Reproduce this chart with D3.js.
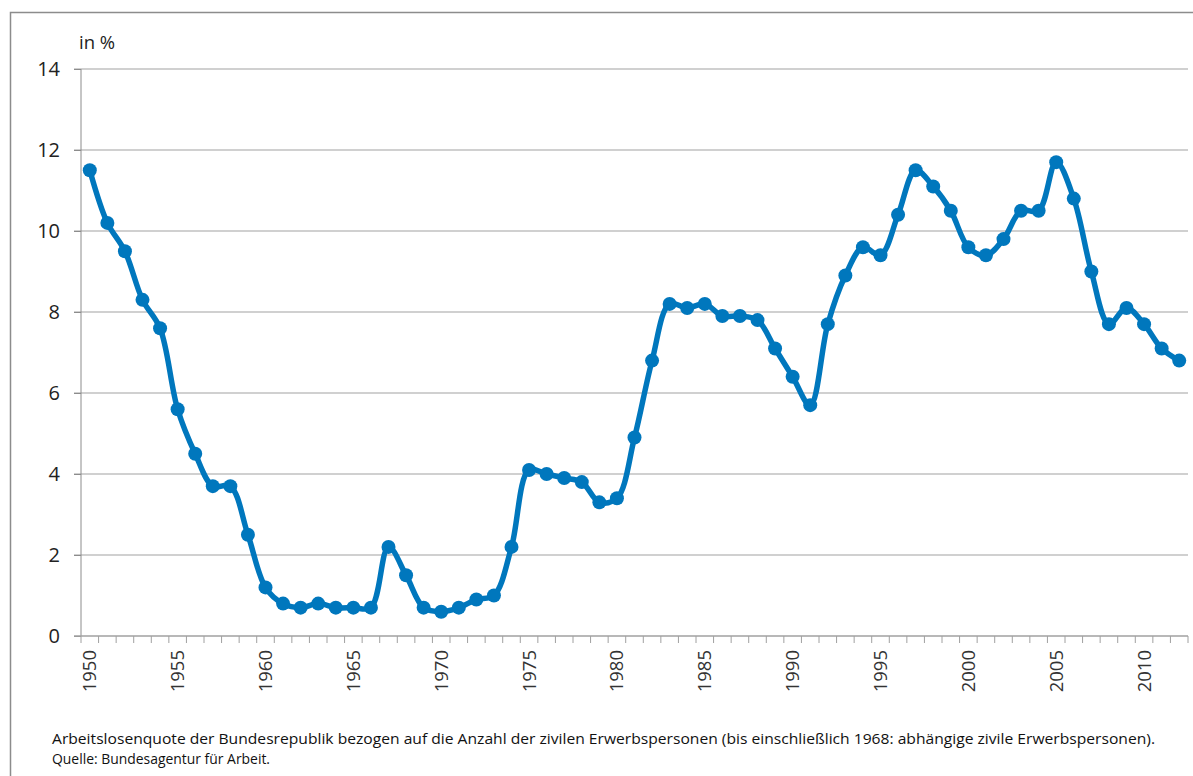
<!DOCTYPE html>
<html>
<head>
<meta charset="utf-8">
<script src="https://cdn.jsdelivr.net/npm/d3@7"></script>
<style>
	body { margin: 0; background: #fff; }
	svg { display: block; font-family: "Open Sans", "Noto Sans", sans-serif; }
</style>
</head>
<body>
<svg id="chart"></svg>
<script>
// ====================================================
// data
var years = d3.range(1950, 2013);

var quote = [
	11.5, 10.2, 9.5, 8.3, 7.6, 5.6, 4.5, 3.7, 3.7, 2.5,   // 1950-1959
	1.2, 0.8, 0.7, 0.8, 0.7, 0.7, 0.7, 2.2, 1.5, 0.7,      // 1960-1969
	0.6, 0.7, 0.9, 1.0, 2.2, 4.1, 4.0, 3.9, 3.8, 3.3,      // 1970-1979
	3.4, 4.9, 6.8, 8.2, 8.1, 8.2, 7.9, 7.9, 7.8, 7.1,      // 1980-1989
	6.4, 5.7, 7.7, 8.9, 9.6, 9.4, 10.4, 11.5, 11.1, 10.5,  // 1990-1999
	9.6, 9.4, 9.8, 10.5, 10.5, 11.7, 10.8, 9.0, 7.7, 8.1,  // 2000-2009
	7.7, 7.1, 6.8                                          // 2010-2012
];

var y_ticks = [0, 2, 4, 6, 8, 10, 12, 14];
var x_labels = [1950, 1955, 1960, 1965, 1970, 1975, 1980, 1985, 1990, 1995, 2000, 2005, 2010];

var y_title = "in %";
var note_lines = [
	"Arbeitslosenquote der Bundesrepublik bezogen auf die Anzahl der zivilen Erwerbspersonen (bis einschließlich 1968: abhängige zivile Erwerbspersonen).",
	"Quelle: Bundesagentur für Arbeit."
];

// ====================================================
var width = 1193, height = 776;
var plot = {left: 81, right: 1188, top: 69, bottom: 636};
var line_col = "#0077bd";

var svg = d3.select("svg#chart")
	.attr("width", width)
	.attr("height", height);

// outer frame -- only left and top edges are visible in the picture
svg.append("rect")
	.attr("x", 10.5).attr("y", 12.5)
	.attr("width", width + 20).attr("height", height + 20)
	.attr("fill", "none")
	.attr("stroke", "#8c8c8c")
	.attr("stroke-width", 1.5);

var x = d3.scaleBand()
	.domain(years)
	.range([plot.left, plot.right]);

var y = d3.scaleLinear()
	.domain([0, 14])
	.range([plot.bottom, plot.top]);

// grid lines
svg.append("g")
	.selectAll("line")
	.data(y_ticks.filter(function(d) { return d > 0; }))
	.enter().append("line")
	.attr("x1", plot.left - 7).attr("x2", plot.right)
	.attr("y1", function(d) { return y(d); })
	.attr("y2", function(d) { return y(d); })
	.attr("stroke", "#c0c0c0")
	.attr("stroke-width", 1.5);

// y axis
var g_y = svg.append("g")
	.attr("transform", "translate(" + plot.left + ",0)")
	.call(d3.axisLeft(y).tickValues(y_ticks).tickSize(7).tickPadding(14).tickFormat(d3.format("d")));
g_y.select(".domain").attr("stroke", "#8c8c8c").attr("d", "M0," + plot.top + "V" + plot.bottom);
g_y.selectAll(".tick line").attr("stroke", "#8c8c8c");
g_y.selectAll("text")
	.attr("font-size", 20)
	.attr("fill", "#222")
	.attr("font-family", "Open Sans, sans-serif");

// x axis -- ticks sit on the category boundaries like excel does
var g_x = svg.append("g")
	.attr("transform", "translate(0," + plot.bottom + ")");

g_x.append("line")
	.attr("x1", plot.left - 7).attr("x2", plot.right)
	.attr("y1", 0).attr("y2", 0)
	.attr("stroke", "#a0a0a0")
	.attr("stroke-width", 1.5);

g_x.selectAll("line.tk")
	.data(years.concat([2013]))
	.enter().append("line")
	.attr("class", "tk")
	.attr("x1", function(d, i) { return plot.left + i * x.step(); })
	.attr("x2", function(d, i) { return plot.left + i * x.step(); })
	.attr("y1", 0).attr("y2", 7)
	.attr("stroke", "#a0a0a0");

g_x.selectAll("text")
	.data(x_labels)
	.enter().append("text")
	.attr("transform", function(d) {
		return "translate(" + (x(d) + x.bandwidth() / 2) + ",14) rotate(-90)";
	})
	.attr("text-anchor", "end")
	.attr("dy", "0.35em")
	.attr("font-size", 18.5)
	.attr("fill", "#333")
	.text(function(d) { return d; });

// axis title
svg.append("text")
	.attr("x", 79).attr("y", 49)
	.attr("font-size", 18.5)
	.attr("fill", "#222")
	.text(y_title);

// ====================================================
// the smoothed series
var pts = years.map(function(d, i) { return {year: d, v: quote[i]}; });

var line = d3.line()
	.x(function(d) { return x(d.year) + x.bandwidth() / 2; })
	.y(function(d) { return y(d.v); })
	.curve(d3.curveCatmullRom.alpha(0.5));

svg.append("path")
	.datum(pts)
	.attr("d", line)
	.attr("fill", "none")
	.attr("stroke", line_col)
	.attr("stroke-width", 5.5)
	.attr("stroke-linejoin", "round");

svg.append("g")
	.selectAll("circle")
	.data(pts)
	.enter().append("circle")
	.attr("cx", function(d) { return x(d.year) + x.bandwidth() / 2; })
	.attr("cy", function(d) { return y(d.v); })
	.attr("r", 7)
	.attr("fill", line_col);

// ====================================================
// footnote
svg.append("g")
	.selectAll("text")
	.data(note_lines)
	.enter().append("text")
	.attr("x", 52)
	.attr("y", function(d, i) { return 744 + i * 20; })
	.attr("font-size", 14.5)
	.attr("fill", "#111")
	.attr("font-family", "Open Sans, sans-serif")
	.attr("textLength", function(d, i) { return i == 0 ? 1103 : 218; })
	.attr("lengthAdjust", "spacingAndGlyphs")
	.text(function(d) { return d; });
</script>
</body>
</html>
